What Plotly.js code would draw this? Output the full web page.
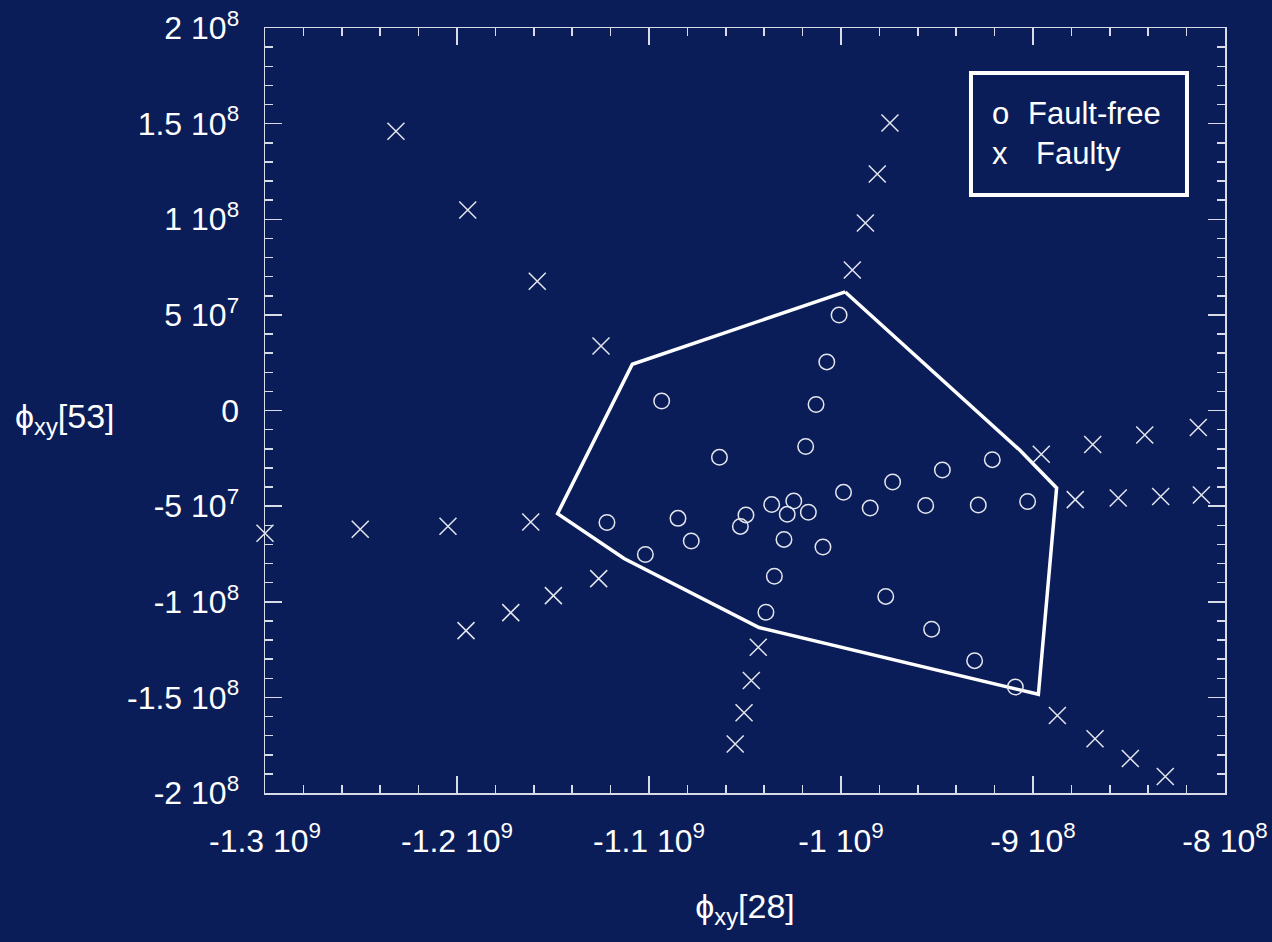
<!DOCTYPE html>
<html>
<head>
<meta charset="utf-8">
<script src="https://cdn.plot.ly/plotly-3.0.1.min.js"></script>
<style>html,body{margin:0;padding:0;background:#0a1d58;}#chart{width:1272px;height:942px;}</style>
</head>
<body>
<div id="chart"></div>
<script>
// Faulty samples (x markers)
const faultyX = [-12.318e8, -11.944e8, -11.582e8, -11.25e8, -9.745e8, -9.811e8, -9.873e8, -9.941e8,
  -13.0e8, -12.504e8, -12.047e8, -11.616e8, -11.953e8, -11.72e8, -11.498e8, -11.262e8,
  -10.431e8, -10.467e8, -10.505e8, -10.551e8, -8.957e8, -8.689e8, -8.418e8, -8.139e8,
  -8.78e8, -8.556e8, -8.335e8, -8.123e8, -8.873e8, -8.677e8, -8.493e8, -8.311e8];
const faultyY = [1.46e8, 1.048e8, 0.676e8, 0.337e8, 1.503e8, 1.237e8, 0.98e8, 0.735e8,
  -0.642e8, -0.621e8, -0.605e8, -0.583e8, -1.151e8, -1.057e8, -0.968e8, -0.879e8,
  -1.238e8, -1.412e8, -1.58e8, -1.744e8, -0.229e8, -0.178e8, -0.128e8, -0.089e8,
  -0.466e8, -0.458e8, -0.45e8, -0.442e8, -1.595e8, -1.716e8, -1.82e8, -1.914e8];

// Fault-free samples (o markers)
const freeX = [-10.010e8, -10.074e8, -10.934e8, -10.130e8, -10.633e8, -10.184e8, -9.731e8, -9.987e8,
  -9.848e8, -10.246e8, -10.361e8, -10.280e8, -10.170e8, -10.495e8, -10.524e8, -10.849e8,
  -11.219e8, -10.780e8, -10.297e8, -10.094e8, -11.019e8, -10.347e8, -9.767e8, -10.391e8,
  -9.559e8, -9.285e8, -9.028e8, -9.472e8, -9.212e8, -9.528e8, -9.304e8, -9.092e8];
const freeY = [0.499e8, 0.254e8, 0.050e8, 0.031e8, -0.245e8, -0.188e8, -0.374e8, -0.428e8,
  -0.510e8, -0.473e8, -0.492e8, -0.543e8, -0.532e8, -0.546e8, -0.606e8, -0.564e8,
  -0.586e8, -0.682e8, -0.674e8, -0.714e8, -0.753e8, -0.867e8, -0.972e8, -1.055e8,
  -0.497e8, -0.494e8, -0.476e8, -0.311e8, -0.257e8, -1.144e8, -1.308e8, -1.446e8];

// Decision boundary polygon
const hullX = [-9.978e8, -9.068e8, -8.877e8, -8.972e8, -10.427e8, -11.130e8, -11.476e8, -11.087e8, -9.978e8];
const hullY = [0.620e8, -0.208e8, -0.405e8, -1.484e8, -1.135e8, -0.774e8, -0.539e8, 0.242e8, 0.620e8];

// Tick labels
const xTickVals = [-1.3e9, -1.2e9, -1.1e9, -1e9, -9e8, -8e8];
const xTickText = ['-1.3 10<sup>9</sup>', '-1.2 10<sup>9</sup>', '-1.1 10<sup>9</sup>', '-1 10<sup>9</sup>', '-9 10<sup>8</sup>', '-8 10<sup>8</sup>'];
const yTickVals = [2e8, 1.5e8, 1e8, 5e7, 0, -5e7, -1e8, -1.5e8, -2e8];
const yTickText = ['2 10<sup>8</sup>', '1.5 10<sup>8</sup>', '1 10<sup>8</sup>', '5 10<sup>7</sup>', '0', '-5 10<sup>7</sup>', '-1 10<sup>8</sup>', '-1.5 10<sup>8</sup>', '-2 10<sup>8</sup>'];

const xTitle = 'ϕ<sub>xy</sub>[28]';
const yTitle = 'ϕ<sub>xy</sub>[53]';
const legendLabels = ['Fault-free', 'Faulty'];
const legendSymbols = ['o', 'x'];

const BG = '#0a1d58';
const AX = '#d8dce8';
const FONT = 'Liberation Sans, Arial, sans-serif';

const traces = [
  {x: hullX, y: hullY, mode: 'lines', type: 'scatter', line: {color: '#ffffff', width: 3.5}, hoverinfo: 'skip'},
  {x: freeX, y: freeY, mode: 'markers', type: 'scatter', name: legendLabels[0],
   marker: {symbol: 'circle-open', size: 15.5, color: '#e4e6ee', line: {width: 1.5, color: '#e4e6ee'}}},
  {x: faultyX, y: faultyY, mode: 'markers', type: 'scatter', name: legendLabels[1], cliponaxis: false,
   marker: {symbol: 'x-thin-open', size: 17, color: '#e4e6ee', line: {width: 1.5, color: '#e4e6ee'}}}
];

const axisCommon = {
  showline: true, linecolor: AX, linewidth: 1.5, mirror: 'ticks',
  ticks: 'inside', ticklen: 17, tickwidth: 1.5, tickcolor: AX,
  showgrid: false, zeroline: false, tickmode: 'array',
  tickfont: {family: FONT, size: 32, color: '#ffffff'}
};

const layout = {
  width: 1272, height: 942,
  paper_bgcolor: BG, plot_bgcolor: BG,
  showlegend: false,
  margin: {l: 265, r: 47, t: 28, b: 149},
  font: {family: FONT, color: '#ffffff', size: 32},
  xaxis: Object.assign({}, axisCommon, {
    range: [-1.3e9, -8e8], tickvals: xTickVals, ticktext: xTickText,
    ticklabelstandoff: 19,
    minor: {dtick: 2e7, ticklen: 8, tickwidth: 1.5, tickcolor: AX, ticks: 'inside'},
    title: {text: xTitle, font: {family: FONT, size: 34, color: '#ffffff'}, standoff: 36}
  }),
  yaxis: Object.assign({}, axisCommon, {
    range: [-2e8, 2e8], tickvals: yTickVals, ticktext: yTickText,
    ticklabelstandoff: 18,
    minor: {dtick: 1e7, ticklen: 8, tickwidth: 1.5, tickcolor: AX, ticks: 'inside'}
  }),
  shapes: [
    {type: 'rect', xref: 'paper', yref: 'paper', x0: 0.7354, x1: 0.9604, y0: 0.7817, y1: 0.9412,
     line: {color: '#ffffff', width: 4}, fillcolor: 'rgba(0,0,0,0)'}
  ],
  annotations: [
    {xref: 'paper', yref: 'paper', x: -0.2625, y: 0.49, xanchor: 'left', yanchor: 'middle', showarrow: false,
     text: yTitle, font: {family: FONT, size: 34, color: '#ffffff'}},
    {xref: 'paper', yref: 'paper', x: 0.7552, y: 0.8876, xanchor: 'left', yanchor: 'middle', showarrow: false,
     text: legendSymbols[0], font: {family: FONT, size: 31, color: '#ffffff'}},
    {xref: 'paper', yref: 'paper', x: 0.7927, y: 0.8876, xanchor: 'left', yanchor: 'middle', showarrow: false,
     text: legendLabels[0], font: {family: FONT, size: 31, color: '#ffffff'}},
    {xref: 'paper', yref: 'paper', x: 0.7552, y: 0.8366, xanchor: 'left', yanchor: 'middle', showarrow: false,
     text: legendSymbols[1], font: {family: FONT, size: 31, color: '#ffffff'}},
    {xref: 'paper', yref: 'paper', x: 0.801, y: 0.8366, xanchor: 'left', yanchor: 'middle', showarrow: false,
     text: legendLabels[1], font: {family: FONT, size: 31, color: '#ffffff'}}
  ]
};

Plotly.newPlot('chart', traces, layout, {displayModeBar: false, staticPlot: true});
</script>
</body>
</html>
